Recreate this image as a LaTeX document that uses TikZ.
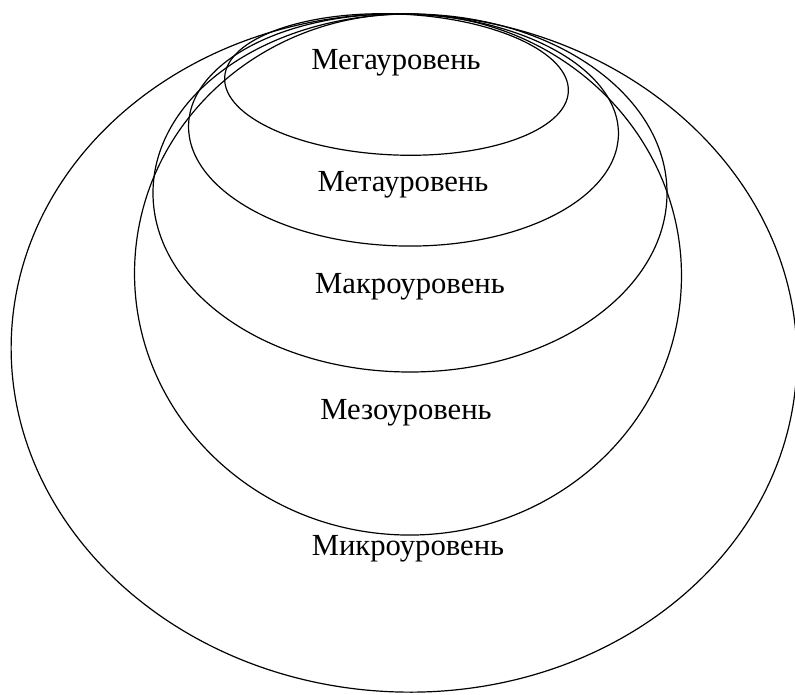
\documentclass[tikz,border=0pt]{standalone}
\usepackage{fontspec}
\setmainfont{Liberation Serif}

\tikzset{every picture/.style={line width=0.9pt}}
\tikzset{lvltext/.style={inner sep=0.75pt, font=\fontsize{23}{27}\selectfont}}

\begin{document}
\begin{tikzpicture}[x=0.75pt,y=0.75pt,yscale=-1,xscale=1]
%set diagram left start at 0, and has height of 695
\useasboundingbox (0,0) rectangle (795,695);

%Shape: Ellipse [id:micro]
\draw   (404,353) ellipse [x radius=393, y radius=339, rotate=2.9] ;
%Shape: Ellipse [id:mezo]
\draw   (408,274.5) ellipse [x radius=273.5, y radius=260.5, rotate=3] ;
%Shape: Ellipse [id:macro]
\draw   (410,193) ellipse [x radius=257, y radius=179] ;
%Shape: Ellipse [id:meta]
\draw   (403.5,130) ellipse [x radius=215, y radius=116, rotate=1.3] ;
%Shape: Ellipse [id:mega]
\draw   (396.5,84.5) ellipse [x radius=172, y radius=70.5, rotate=2.3] ;

% Text Node
\draw (396,63) node (mega) [lvltext] {Мегауровень};
% Text Node
\draw (403,185) node (meta) [lvltext] {Метауровень};
% Text Node
\draw (410,287) node (macro) [lvltext] {Макроуровень};
% Text Node
\draw (406,413) node (mezo) [lvltext] {Мезоуровень};
% Text Node
\draw (408,549) node (micro) [lvltext] {Микроуровень};

\end{tikzpicture}
\end{document}
